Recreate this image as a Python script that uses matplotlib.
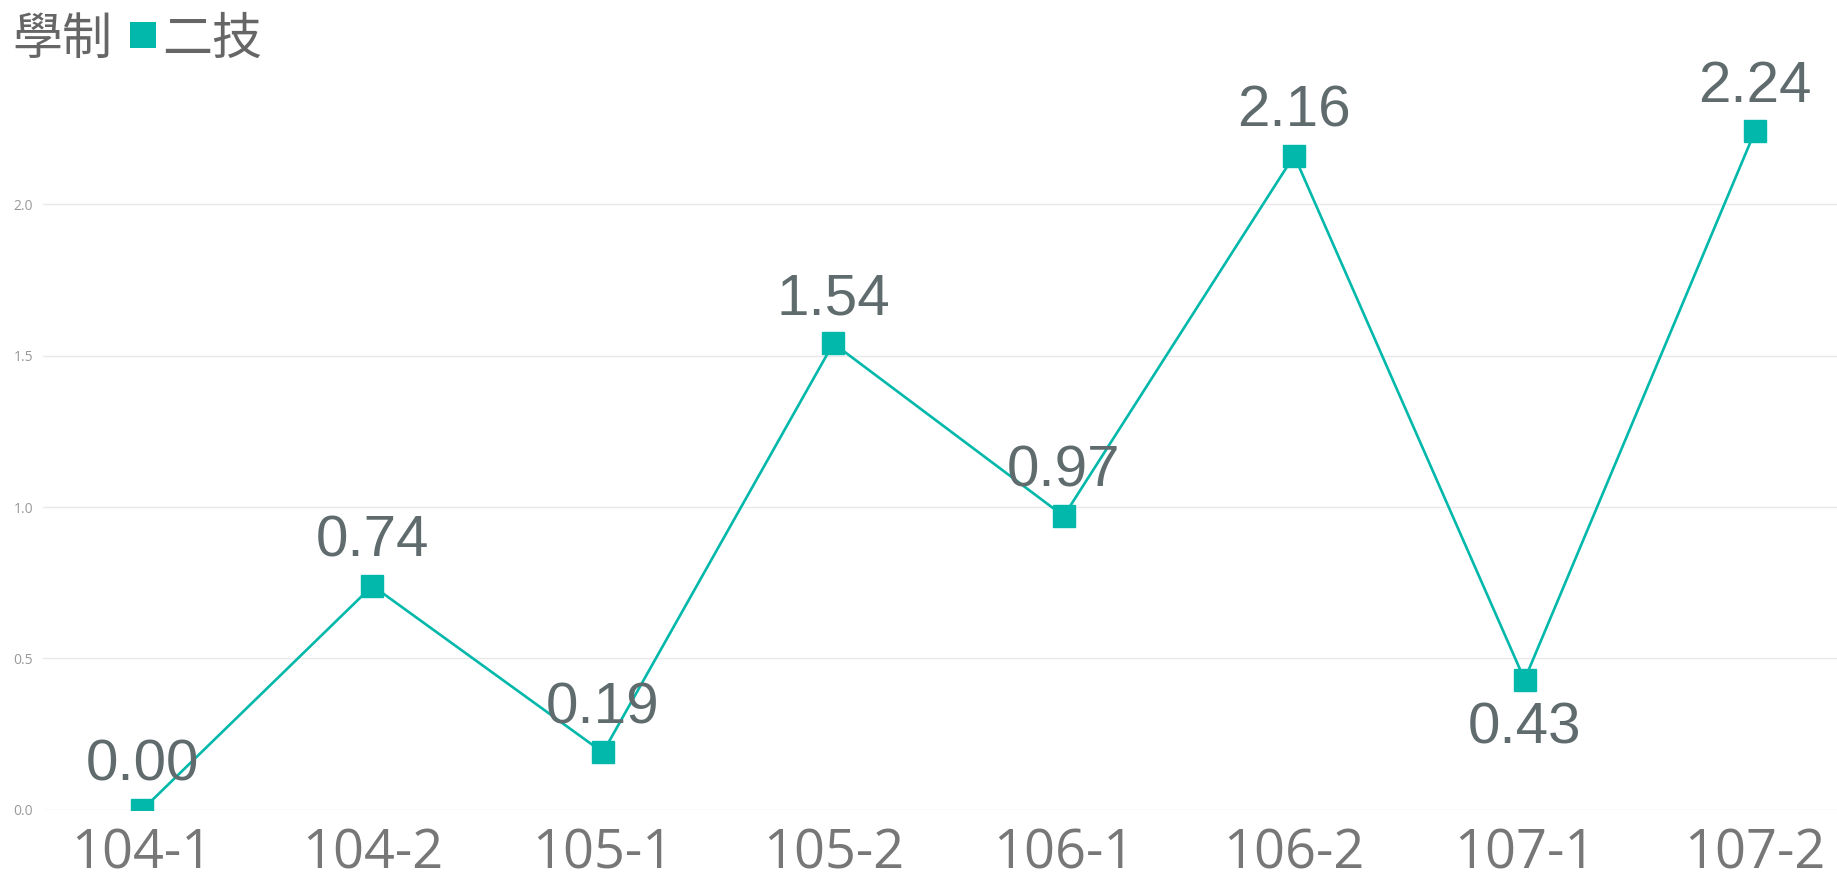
import matplotlib
matplotlib.use("Agg")
import matplotlib.pyplot as plt

categories = ["104-1", "104-2", "105-1", "105-2", "106-1", "106-2", "107-1", "107-2"]
values = [0.00, 0.74, 0.19, 1.54, 0.97, 2.16, 0.43, 2.24]
label_below = [False, False, False, False, False, False, True, False]
y_ticks = [0.0, 0.5, 1.0, 1.5, 2.0]
legend_title = "學制"
series_name = "二技"

teal = "#01B8AA"
plt.rcParams["font.family"] = ["Noto Sans CJK TC", "DejaVu Sans"]

fig = plt.figure(figsize=(18.37, 8.83), dpi=100)
ax = fig.add_axes([0.0234, 0.0827, 0.9766, 0.8578])

x = list(range(len(categories)))
ax.plot(x, values, color=teal, linewidth=1.9, marker="s", markersize=16,
        markerfacecolor=teal, markeredgecolor=teal, zorder=3)

for xi, v, below in zip(x, values, label_below):
    ax.annotate(f"{v:.2f}", (xi, v), xytext=(0, -16 if below else 21),
                textcoords="offset points", ha="center",
                va="top" if below else "baseline",
                fontsize=42, color="#5F6B6D", family="Liberation Sans",
                annotation_clip=False, zorder=4)

ax.set_xlim(-0.43, 7.356)
ax.set_ylim(0, 2.5)
ax.set_xticks(x)
ax.set_xticklabels(categories, fontsize=39, color="#777777", family="Open Sans")
ax.set_yticks(y_ticks)
ax.set_yticklabels([f"{t:.1f}" for t in y_ticks], fontsize=10, color="#999999",
                   family="Open Sans")
ax.tick_params(axis="both", length=0)
ax.tick_params(axis="x", pad=12)
ax.tick_params(axis="y", pad=7)
ax.grid(axis="y", color="#E8E8E8", linewidth=1)
ax.set_axisbelow(True)
for s in ax.spines.values():
    s.set_visible(False)

# legend header
fig.text(12 / 1837, 1 - 54 / 883, legend_title, fontsize=36, color="#666666",
         va="baseline", ha="left")
fig.patches.append(matplotlib.patches.Rectangle(
    (130 / 1837, 1 - 48 / 883), 26 / 1837, 26 / 883,
    transform=fig.transFigure, facecolor=teal, edgecolor="none"))
fig.text(162 / 1837, 1 - 54 / 883, series_name, fontsize=36, color="#666666",
         va="baseline", ha="left")

fig.savefig("out.png", dpi=100)
